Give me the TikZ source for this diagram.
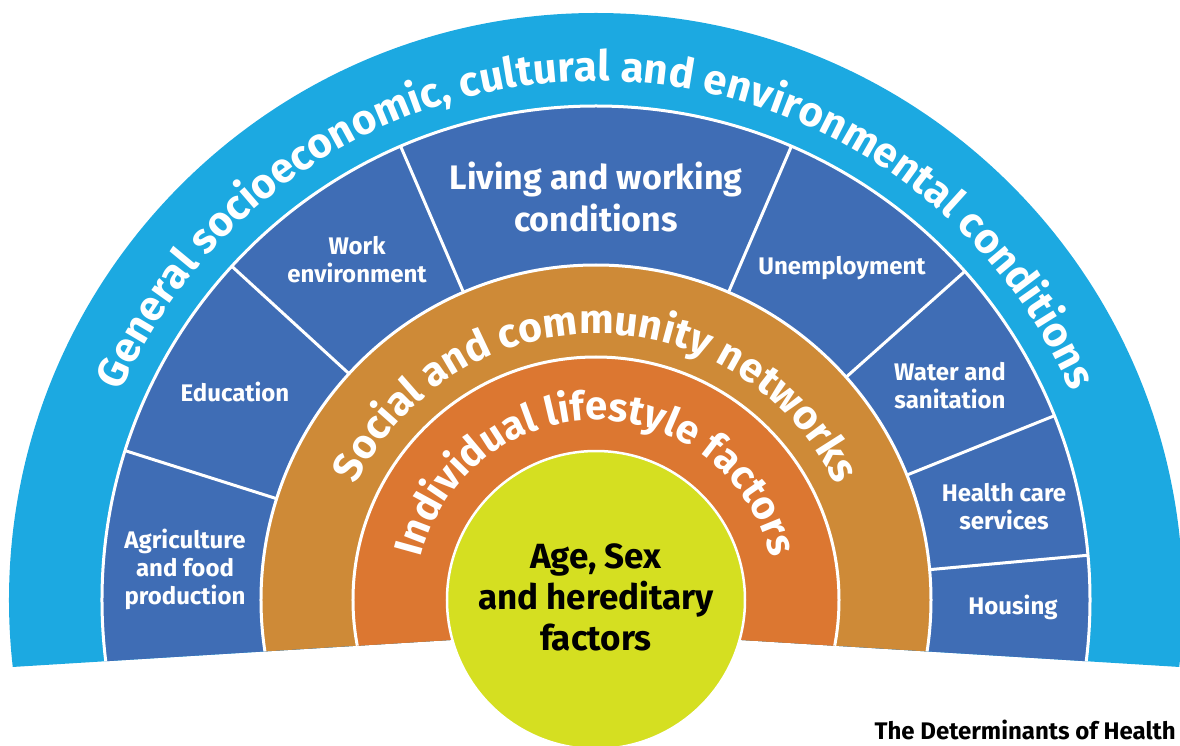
\documentclass[tikz,border=0pt]{standalone}
\usepackage{fontspec}
\setmainfont{Fira Sans}
\usepackage{tikz}
\usetikzlibrary{decorations.text}
\definecolor{RingSky}{RGB}{28,169,225}
\definecolor{RingBlue}{RGB}{63,109,181}
\definecolor{RingOchre}{RGB}{206,138,55}
\definecolor{RingOrange}{RGB}{220,119,49}
\definecolor{RingLime}{RGB}{213,223,33}

\begin{document}
\begin{tikzpicture}[x=1pt,y=1pt,
    sector/.style={text=white,font=\bfseries\fontsize{24}{28}\selectfont,align=center},
    ringtext/.style={decorate,decoration={text along path,text align=center,text color=white}}]
    \useasboundingbox (-596,-145) rectangle (584,600);

    % rings, cut off along the base
    \begin{scope}
        \clip (-600,-68) -- (0,-31) -- (600,-68) -- (600,600) -- (-600,600) -- cycle;
        \fill[RingSky] (0,0) circle[radius=587];
        \filldraw[fill=RingBlue,draw=white,line width=3] (0,0) circle[radius=494];
        \foreach \a in {162.4,137.5,113.3,66.7,41.7,21.9,5.2}
            \draw[white,line width=3] (\a:330) -- (\a:494);
        \filldraw[fill=RingOchre,draw=white,line width=3] (0,0) circle[radius=335];
        \filldraw[fill=RingOrange,draw=white,line width=3] (0,0) circle[radius=243];
    \end{scope}
    \filldraw[fill=RingLime,draw=white,line width=2.5] (0,0) circle[radius=149];

    % ring titles
    \path[ringtext,decoration={text={|\fontsize{42}{42}\selectfont\bfseries|General socioeconomic, cultural and environmental conditions}}]
        (175:519) arc[start angle=175,end angle=5,radius=519];
    \path[ringtext,decoration={text={|\fontsize{41}{41}\selectfont\bfseries|Social and community networks}}]
        (178:266) arc[start angle=178,end angle=2,radius=266];
    \path[ringtext,decoration={text={|\fontsize{40}{40}\selectfont\bfseries|Individual lifestyle factors}}]
        (179:180) arc[start angle=179,end angle=1,radius=180];

    % sectors
    \node[sector] (agri) at (-411,31) {Agriculture\\and food\\production};
    \node[sector] (edu) at (-361,208) {Education};
    \node[sector] (work) at (-239,340) {Work\\environment};
    \node[sector,font=\bfseries\fontsize{34}{42}\selectfont] (living) at (0,403) {Living and working\\conditions};
    \node[sector] (unemp) at (246,332) {Unemployment};
    \node[sector] (water) at (354,214) {Water and\\sanitation};
    \node[sector] (health) at (408,93) {Health care\\services};
    \node[sector] (housing) at (417,-7) {Housing};

    \node[font=\bfseries\fontsize{35}{41}\selectfont,align=center] (core) at (0,3) {Age, Sex\\and hereditary\\factors};
    \node[anchor=base east,inner sep=0,font=\bfseries\fontsize{24}{24}\selectfont] (title) at (580,-139) {The Determinants of Health};
\end{tikzpicture}
\end{document}
